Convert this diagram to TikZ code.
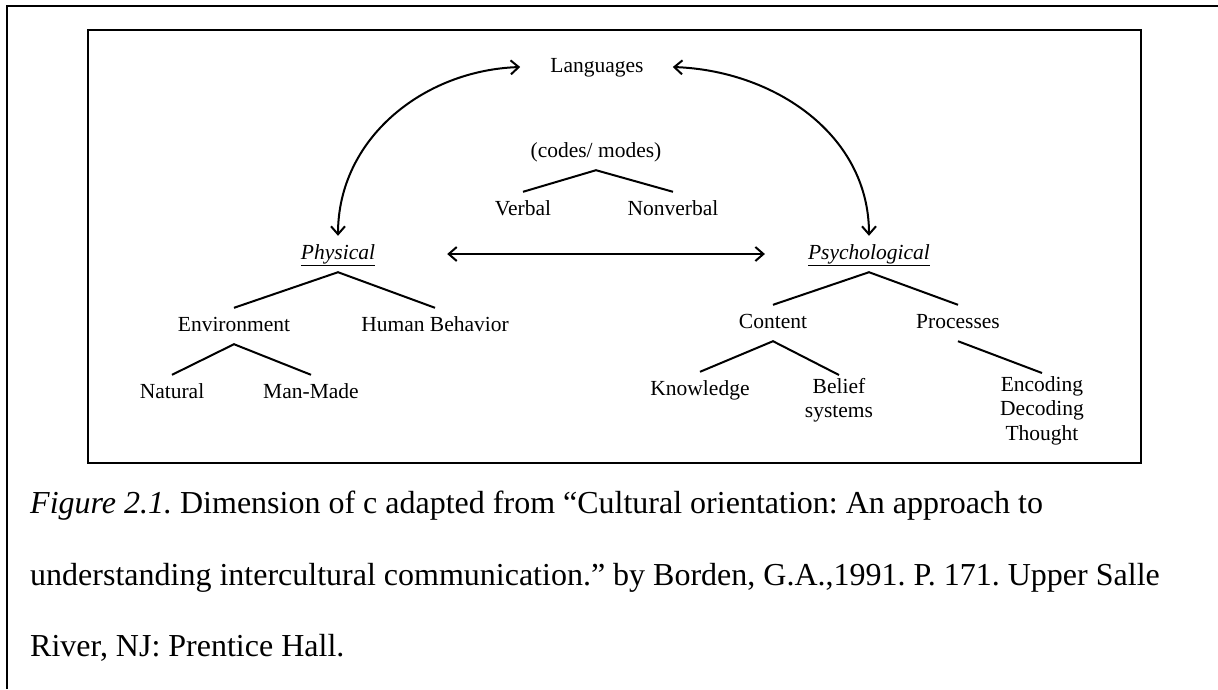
\documentclass[tikz,border=0pt]{standalone}
\usepackage{fontspec}
\setmainfont{Liberation Serif}
\usepackage{tikz}
\usetikzlibrary{arrows.meta}
\frenchspacing

\begin{document}
\begin{tikzpicture}[x=1pt,y=-1pt,
  lbl/.style={font=\fontsize{21.5}{24.5}\selectfont, text height=15pt, text depth=5pt, inner xsep=2pt, inner ysep=8pt},
  lbls/.style={font=\fontsize{21.5}{24.5}\selectfont, align=center, inner sep=3pt, anchor=north},
  branch/.style={line width=2pt},
  link/.style={line width=2pt, {Straight Barb[length=8pt,width=14pt]}-{Straight Barb[length=8pt,width=14pt]}},
  captxt/.style={font=\fontsize{32}{36}\selectfont, anchor=base west, inner sep=0pt}]
\useasboundingbox (0,0) rectangle (1218,689);
\draw[line width=1.5pt] (7,689) -- (7,6) -- (1218,6);
\draw[line width=2.2pt] (88,30) rectangle (1141,463);

\node[lbl] (lang) at (597,67) {Languages};
\node[lbl] (codes) at (596,152) {(codes/ modes)};
\node[lbl] (verbal) at (523,210) {Verbal};
\node[lbl] (nonverbal) at (673,210) {Nonverbal};
\node[lbl] (phys) at (338,254) {\underline{\textit{Physical}}};
\node[lbl] (psych) at (869,254) {\underline{\textit{Psychological}}};
\node[lbl] (env) at (234,326) {Environment};
\node[lbl] (human) at (435,326) {Human Behavior};
\node[lbl] (natural) at (172,393) {Natural};
\node[lbl] (manmade) at (311,393) {Man-Made};
\node[lbl] (content) at (773,323) {Content};
\node[lbl] (processes) at (958,323) {Processes};
\node[lbl] (knowledge) at (700,390) {Knowledge};
\node[lbls] (belief) at (839,375) {Belief\\systems};
\node[lbls] (encoding) at (1042,373) {Encoding\\Decoding\\Thought};

\draw[branch] (verbal.north) -- (codes.south) -- (nonverbal.north);
\draw[branch] (env.north) -- (phys.south) -- (human.north);
\draw[branch] (natural.north) -- (env.south) -- (manmade.north);
\draw[branch] (content.north) -- (psych.south) -- (processes.north);
\draw[branch] (knowledge.north) -- (content.south) -- (belief.north);
\draw[branch] (processes.south) -- (encoding.north);

\draw[link] (phys.north) to[out=90,in=182] ([xshift=-28pt]lang.west);
\draw[link] ([xshift=27pt]lang.east) to[out=-2,in=90] (psych.north);
\draw[link, shorten <=70pt, shorten >=41pt] (phys.east) -- (psych.west);

\node[captxt] (cap1) at (30,513) {\textit{Figure 2.1.} Dimension of c adapted from “Cultural orientation: An approach to};
\node[captxt] (cap2) at (30,585) {understanding intercultural communication.” by Borden, G.A.,1991. P. 171. Upper Salle};
\node[captxt] (cap3) at (30,656) {River, NJ: Prentice Hall.};
\end{tikzpicture}
\end{document}
